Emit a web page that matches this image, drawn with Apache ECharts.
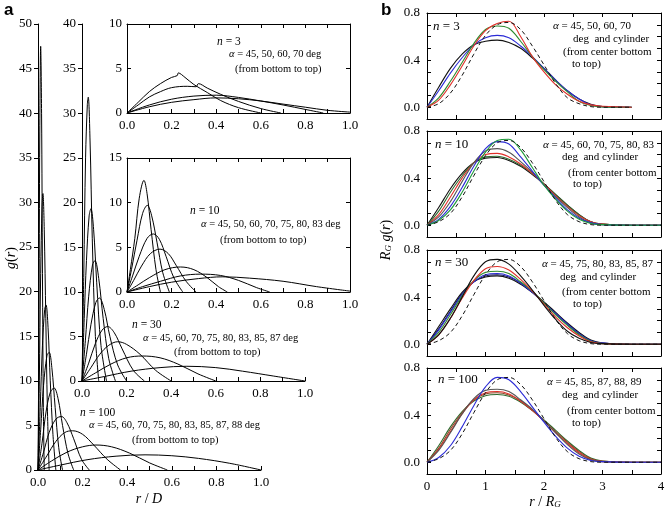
<!DOCTYPE html>
<html>
<head>
<meta charset="utf-8">
<script src="https://cdn.jsdelivr.net/npm/echarts@6/dist/echarts.min.js"></script>
<style>html,body{margin:0;background:#fff}#chart{width:666px;height:511px}</style>
</head>
<body>
<div id="chart"></div>
<script>
// ---- panel a: g(r) against r/D, each curve as [r/D, g] pairs, listed bottom (alpha=45) to top ----
const aN100 = [
  [[0,0],[0.1,0.55],[0.22,1.15],[0.35,1.55],[0.48,1.7],[0.6,1.6],[0.72,1.3],[0.86,0.75],[1.0,0]],
  [[0,0],[0.06,1],[0.13,2],[0.2,2.6],[0.26,2.8],[0.33,2.6],[0.41,1.9],[0.5,0.8],[0.58,0]],
  [[0,0],[0.04,1.6],[0.08,3.2],[0.12,4.2],[0.155,4.4],[0.2,4],[0.25,2.8],[0.31,1.2],[0.37,0]],
  [[0,0],[0.025,2],[0.05,4.2],[0.08,5.7],[0.105,6],[0.13,5.3],[0.16,3.5],[0.195,1.2],[0.23,0]],
  [[0,0],[0.018,3],[0.036,6.5],[0.055,8.7],[0.072,9.2],[0.09,8],[0.11,5],[0.135,1.8],[0.16,0]],
  [[0,0],[0.012,4.5],[0.025,9.5],[0.04,12.8],[0.05,13.2],[0.062,11.5],[0.077,7],[0.093,2.5],[0.11,0]],
  [[0,0],[0.01,7],[0.02,14],[0.03,18],[0.036,18.5],[0.045,16],[0.055,10],[0.067,4],[0.08,0]],
  [[0,0],[0.006,10],[0.012,22],[0.018,29.5],[0.022,31],[0.028,27],[0.035,17],[0.042,7],[0.05,0]],
  [[0,0],[0.004,15],[0.008,38],[0.012,47.5],[0.016,40],[0.02,22],[0.024,7],[0.028,0]]
];
const aN30 = [
  [[0,0],[0.1,0.5],[0.22,1.1],[0.35,1.5],[0.47,1.65],[0.6,1.5],[0.72,1.1],[0.86,0.55],[1.0,0]],
  [[0,0],[0.06,0.9],[0.13,1.9],[0.2,2.6],[0.27,2.8],[0.35,2.6],[0.43,1.9],[0.52,0.8],[0.6,0]],
  [[0,0],[0.04,1.5],[0.08,3],[0.12,4],[0.16,4.4],[0.2,4.1],[0.26,3],[0.33,1.2],[0.4,0]],
  [[0,0],[0.03,2],[0.06,4.2],[0.09,5.7],[0.115,6.1],[0.145,5.4],[0.18,3.6],[0.23,1.2],[0.28,0]],
  [[0,0],[0.02,3],[0.04,6.3],[0.062,8.8],[0.078,9.3],[0.1,8],[0.125,5],[0.16,1.8],[0.2,0]],
  [[0,0],[0.015,4.5],[0.03,9.5],[0.047,13],[0.058,13.5],[0.075,11.5],[0.095,7],[0.12,2.5],[0.15,0]],
  [[0,0],[0.01,7],[0.02,13.5],[0.032,18.5],[0.04,19.3],[0.052,17],[0.066,11],[0.085,4],[0.11,0]],
  [[0,0],[0.008,12],[0.016,25],[0.024,31],[0.028,31.8],[0.036,27],[0.046,16],[0.06,5],[0.075,0]]
];
const aN10 = [
  [[0,0],[0.1,0.6],[0.2,1.1],[0.32,1.5],[0.43,1.7],[0.55,1.55],[0.7,1.2],[0.85,0.6],[1.0,0.1]],
  [[0,0],[0.07,0.6],[0.15,1.2],[0.24,1.8],[0.33,2.0],[0.42,1.85],[0.5,1.3],[0.58,0.5],[0.64,0]],
  [[0,0],[0.05,0.8],[0.1,1.6],[0.17,2.5],[0.24,2.8],[0.3,2.5],[0.36,1.6],[0.41,0.6],[0.45,0]],
  [[0,0],[0.03,1.3],[0.065,2.9],[0.105,4.3],[0.148,4.8],[0.185,4.3],[0.22,3],[0.265,1.2],[0.31,0]],
  [[0,0],[0.025,1.8],[0.055,4],[0.09,6],[0.118,6.5],[0.145,5.9],[0.175,4],[0.21,1.6],[0.25,0]],
  [[0,0],[0.02,2.5],[0.045,5.8],[0.07,8.8],[0.091,9.7],[0.11,8.6],[0.135,5.5],[0.16,2.2],[0.19,0]],
  [[0,0],[0.015,2.5],[0.035,6],[0.055,10.5],[0.076,12.5],[0.09,11],[0.108,7],[0.13,2.5],[0.15,0]]
];
const aN3 = [
  [[0,0],[0.1,0.7],[0.2,1.2],[0.3,1.5],[0.4,1.7],[0.5,1.6],[0.6,1.35],[0.7,1.0],[0.8,0.65],[0.9,0.3],[1.0,0.1]],
  [[0,0],[0.1,0.9],[0.2,1.55],[0.3,1.9],[0.4,2.0],[0.5,1.75],[0.6,1.35],[0.7,0.9],[0.8,0.4],[0.88,0]],
  [[0,0],[0.05,0.9],[0.1,1.8],[0.15,2.4],[0.2,2.85],[0.27,3.0],[0.31,2.95],[0.32,3.3],[0.36,2.8],[0.42,2.1],[0.5,1.3],[0.6,0.5],[0.69,0]],
  [[0,0],[0.05,1.2],[0.1,2.4],[0.15,3.3],[0.2,4.0],[0.225,4.2],[0.23,4.5],[0.26,4.0],[0.3,3.2],[0.36,2.3],[0.42,1.4],[0.5,0.6],[0.6,0]]
];

// ---- panel b: R_G g(r) against r/R_G ----
const rB = [0,0.2,0.4,0.6,0.8,1.0,1.2,1.4,1.6,1.8,2.0,2.2,2.4,2.6,2.8,3.0,3.5,4.0];
const bN3 = [
  [0,0.17,0.33,0.45,0.53,0.56,0.57,0.55,0.5,0.42,0.33,0.23,0.14,0.07,0.025,0.005,0],
  [0,0.14,0.29,0.42,0.53,0.59,0.61,0.59,0.52,0.43,0.33,0.23,0.14,0.07,0.02,0.005,0],
  [0,0.08,0.22,0.38,0.54,0.66,0.69,0.67,0.56,0.43,0.32,0.22,0.13,0.05,0.015,0.003,0],
  [0,0.06,0.19,0.35,0.52,0.65,0.71,0.73,0.6,0.43,0.3,0.19,0.11,0.05,0.02,0.008,0]
];
const bN3Cyl = [0,0.03,0.12,0.27,0.45,0.61,0.7,0.72,0.66,0.52,0.36,0.2,0.08,0.03,0.005,0,0];
const bN10 = [
  [0,0.15,0.31,0.44,0.53,0.57,0.575,0.55,0.5,0.43,0.35,0.26,0.17,0.09,0.03,0.01,0,0],
  [0,0.12,0.28,0.42,0.53,0.58,0.585,0.56,0.51,0.44,0.35,0.26,0.17,0.09,0.03,0.01,0,0],
  [0,0.09,0.24,0.4,0.53,0.6,0.61,0.58,0.52,0.44,0.35,0.25,0.16,0.08,0.03,0.01,0,0],
  [0,0.07,0.2,0.37,0.53,0.63,0.65,0.62,0.54,0.45,0.34,0.24,0.15,0.07,0.02,0.005,0,0],
  [0,0.05,0.16,0.32,0.5,0.65,0.71,0.69,0.58,0.46,0.34,0.23,0.13,0.06,0.02,0.005,0,0],
  [0,0.04,0.13,0.28,0.46,0.62,0.72,0.73,0.64,0.49,0.34,0.22,0.12,0.05,0.015,0.005,0,0]
];
const bN10Cyl = [0,0.03,0.1,0.24,0.42,0.59,0.7,0.72,0.66,0.53,0.37,0.21,0.09,0.03,0.005,0,0,0];
const bN30 = [
  [0,0.15,0.3,0.44,0.53,0.57,0.58,0.56,0.51,0.44,0.36,0.27,0.18,0.1,0.035,0.01,0,0],
  [0,0.13,0.28,0.43,0.53,0.58,0.59,0.57,0.52,0.44,0.35,0.26,0.17,0.09,0.03,0.01,0,0],
  [0,0.12,0.27,0.42,0.53,0.59,0.6,0.58,0.52,0.44,0.35,0.26,0.17,0.09,0.03,0.01,0,0],
  [0,0.1,0.25,0.41,0.54,0.61,0.62,0.6,0.53,0.45,0.35,0.25,0.16,0.08,0.025,0.005,0,0],
  [0,0.08,0.22,0.39,0.54,0.64,0.66,0.63,0.55,0.45,0.34,0.23,0.14,0.07,0.02,0.005,0,0],
  [0,0.08,0.22,0.4,0.58,0.7,0.72,0.68,0.58,0.46,0.33,0.21,0.11,0.05,0.015,0.005,0,0]
];
const bN30Cyl = [0,0.03,0.1,0.24,0.42,0.59,0.7,0.72,0.66,0.53,0.37,0.21,0.09,0.03,0.005,0,0,0];
const bN100 = [
  [0,0.14,0.3,0.43,0.52,0.565,0.575,0.56,0.51,0.44,0.36,0.27,0.18,0.1,0.035,0.01,0,0],
  [0,0.12,0.28,0.42,0.53,0.58,0.59,0.57,0.52,0.44,0.35,0.26,0.17,0.09,0.03,0.01,0,0],
  [0,0.11,0.26,0.41,0.53,0.59,0.6,0.58,0.52,0.44,0.35,0.25,0.16,0.08,0.025,0.005,0,0],
  [0,0.1,0.25,0.41,0.54,0.61,0.62,0.6,0.53,0.45,0.35,0.25,0.15,0.07,0.02,0.005,0,0],
  [0,0.04,0.14,0.3,0.48,0.64,0.72,0.7,0.6,0.47,0.34,0.22,0.12,0.05,0.015,0.005,0,0]
];
const bN100Cyl = [0,0.03,0.1,0.24,0.42,0.59,0.7,0.72,0.66,0.53,0.37,0.21,0.09,0.03,0.005,0,0,0];

const serif = 'Liberation Serif';
const grid = [], xAxis = [], yAxis = [], series = [];

function axis(extra) {
  return Object.assign({
    type: 'value',
    splitLine: { show: false },
    axisLine: { show: true, onZero: false, lineStyle: { color: '#000', width: 1 } },
    axisTick: { show: true, inside: true, length: 4, lineStyle: { color: '#000' } },
    axisLabel: { color: '#000', fontFamily: serif, fontSize: 13 }
  }, extra);
}

// one plot area, its axes, and (if boxed) mirrored axes on top and right
function addPlot(box, xo, yo, boxed) {
  const gi = grid.length;
  grid.push(Object.assign({ outerBoundsMode: 'none', containLabel: false }, box));
  const xi = xAxis.length, yi = yAxis.length;
  xAxis.push(axis(Object.assign({ gridIndex: gi, position: 'bottom' }, xo)));
  yAxis.push(axis(Object.assign({ gridIndex: gi, position: 'left' }, yo)));
  if (boxed) {
    xAxis.push(axis(Object.assign({}, xo, { gridIndex: gi, position: 'top', axisLabel: { show: false } })));
    yAxis.push(axis(Object.assign({}, yo, { gridIndex: gi, position: 'right', axisLabel: { show: false } })));
  }
  return { xi, yi };
}

const tenths = v => { const k = Math.round(v * 10); return k % 2 === 0 ? (k / 10).toFixed(1) : ''; };
const xA = { min: 0, max: 1, interval: 0.1, axisLabel: { color: '#000', fontFamily: serif, fontSize: 13, margin: 6, formatter: tenths } };

function pairsLines(ax, curves, color) {
  curves.forEach(c => series.push({
    type: 'line', xAxisIndex: ax.xi, yAxisIndex: ax.yi, data: c, smooth: 0.35,
    showSymbol: false, symbol: 'none', silent: true,
    lineStyle: { color: color || '#000', width: 1 }
  }));
}

// panel a
const pMain = addPlot({ left: 38, top: 24, width: 223, height: 446 }, xA,
  { min: 0, max: 50, interval: 5, axisTick: { show: true, inside: false, length: 4, lineStyle: { color: '#000' } },
    axisLabel: { color: '#000', fontFamily: serif, fontSize: 13, margin: 6 } }, false);
const p30 = addPlot({ left: 82, top: 24, width: 223, height: 357 }, xA,
  { min: 0, max: 40, interval: 5, axisTick: { show: true, inside: false, length: 4, lineStyle: { color: '#000' } },
    axisLabel: { color: '#000', fontFamily: serif, fontSize: 13, margin: 6 } }, false);
const p3 = addPlot({ left: 127, top: 24, width: 223, height: 89 }, xA,
  { min: 0, max: 10, interval: 5, axisLabel: { color: '#000', fontFamily: serif, fontSize: 13, margin: 5 } }, true);
const p10 = addPlot({ left: 127, top: 158, width: 223, height: 134 }, xA,
  { min: 0, max: 15, interval: 5, axisLabel: { color: '#000', fontFamily: serif, fontSize: 13, margin: 5 } }, true);
pairsLines(pMain, aN100);
pairsLines(p30, aN30);
pairsLines(p3, aN3);
pairsLines(p10, aN10);

// panel b
const bTops = [13, 131, 250, 368];
const bSets = [
  { solid: bN3, cyl: bN3Cyl, colors: ['#111', '#2b2bd6', '#2e8b2e', '#e0302a'] },
  { solid: bN10, cyl: bN10Cyl, colors: ['#111', '#2e6b2e', '#e0302a', '#555', '#2b2bd6', '#1e9a3a'] },
  { solid: bN30, cyl: bN30Cyl, colors: ['#111', '#14145a', '#2b2bd6', '#2e8b2e', '#e0302a', '#111'] },
  { solid: bN100, cyl: bN100Cyl, colors: ['#2e6b2e', '#8b4a2a', '#e0302a', '#555', '#2b2bd6'] }
];
bSets.forEach((s, k) => {
  const last = k === bSets.length - 1;
  const ax = addPlot({ left: 427, top: bTops[k], width: 234, height: 106 },
    { min: 0, max: 4, interval: 0.5,
      axisLabel: { show: last, color: '#000', fontFamily: serif, fontSize: 13, margin: 6,
        formatter: v => Math.abs(v - Math.round(v)) < 1e-6 ? String(Math.round(v)) : '' } },
    { min: -0.1, max: 0.8, interval: 0.1,
      axisLabel: { color: '#000', fontFamily: serif, fontSize: 13, margin: 7,
        formatter: v => { const q = Math.round(v * 10); return (q >= 0 && q % 4 === 0) ? (q / 10).toFixed(1) : ''; } } },
    true);
  s.solid.forEach((vals, i) => series.push({
    type: 'line', xAxisIndex: ax.xi, yAxisIndex: ax.yi, smooth: 0.35, showSymbol: false, symbol: 'none', silent: true,
    data: vals.map((v, j) => [rB[j], v]),
    lineStyle: { color: s.colors[i], width: 1.1 }
  }));
  series.push({
    type: 'line', xAxisIndex: ax.xi, yAxisIndex: ax.yi, smooth: 0.35, showSymbol: false, symbol: 'none', silent: true,
    data: s.cyl.map((v, j) => [rB[j], v]),
    lineStyle: { color: '#111', width: 1, type: [4, 3] }
  });
});

// annotations
const rich = {
  i: { fontStyle: 'italic', fontFamily: serif },
  s: { fontStyle: 'italic', fontFamily: serif, fontSize: 9, verticalAlign: 'bottom', lineHeight: 10 }
};
function txt(x, y, text, size, align, rot) {
  return {
    type: 'text', x: x, y: y, rotation: rot || 0, silent: true,
    style: {
      text: text, fill: '#000', fontFamily: serif, fontSize: size,
      align: align || 'left', verticalAlign: 'middle', textAlign: align || 'left', textVerticalAlign: 'middle',
      rich: Object.assign({}, rich, {
        i: Object.assign({ fontSize: size }, rich.i)
      })
    }
  };
}
const graphic = [
  { type: 'text', x: 4, y: 10, style: { text: 'a', font: 'bold 17px Liberation Sans', fill: '#000', verticalAlign: 'middle', textVerticalAlign: 'middle' } },
  { type: 'text', x: 381, y: 10, style: { text: 'b', font: 'bold 17px Liberation Sans', fill: '#000', verticalAlign: 'middle', textVerticalAlign: 'middle' } },
  txt(217, 42, '{i|n} = 3', 11.5),
  txt(229, 54, '{i|α} = 45, 50, 60, 70 deg', 10.5),
  txt(235, 69, '(from bottom to top)', 10.5),
  txt(190, 211, '{i|n} = 10', 11.5),
  txt(201, 224, '{i|α} = 45, 50, 60, 70, 75, 80, 83 deg', 10.5),
  txt(220, 240, '(from bottom to top)', 10.5),
  txt(132, 325, '{i|n} = 30', 11.5),
  txt(143, 338, '{i|α} = 45, 60, 70, 75, 80, 83, 85, 87 deg', 10.5),
  txt(174, 352, '(from bottom to top)', 10.5),
  txt(80, 413, '{i|n} = 100', 11.5),
  txt(89, 425, '{i|α} = 45, 60, 70, 75, 80, 83, 85, 87, 88 deg', 10.5),
  txt(132, 440, '(from bottom to top)', 10.5),
  txt(149, 499, '{i|r} / {i|D}', 14, 'center'),
  txt(11, 258, '{i|g}({i|r})', 14, 'center', Math.PI / 2),

  txt(433, 27, '{i|n} = 3', 13),
  txt(553, 26, '{i|α} = 45, 50, 60, 70', 11),
  txt(573, 39, 'deg  and cylinder', 11),
  txt(563, 52, '(from center bottom', 11),
  txt(572, 64, 'to top)', 11),
  txt(435, 145, '{i|n} = 10', 13),
  txt(543, 145, '{i|α} = 45, 60, 70, 75, 80, 83', 11),
  txt(562, 157, 'deg  and cylinder', 11),
  txt(568, 173, '(from center bottom', 11),
  txt(573, 184, 'to top)', 11),
  txt(435, 263, '{i|n} = 30', 13),
  txt(542, 264, '{i|α} = 45, 75, 80, 83, 85, 87', 11),
  txt(560, 277, 'deg  and cylinder', 11),
  txt(562, 292, '(from center bottom', 11),
  txt(573, 304, 'to top)', 11),
  txt(438, 380, '{i|n} = 100', 13),
  txt(547, 382, '{i|α} = 45, 85, 87, 88, 89', 11),
  txt(562, 395, 'deg  and cylinder', 11),
  txt(567, 411, '(from center bottom', 11),
  txt(572, 423, 'to top)', 11),
  txt(545, 502, '{i|r} / {i|R}{s|G}', 14, 'center'),
  txt(386, 240, '{i|R}{s|G} {i|g}({i|r})', 14, 'center', Math.PI / 2)
];

const chart = echarts.init(document.getElementById('chart'));
chart.setOption({
  animation: false,
  backgroundColor: '#fff',
  grid: grid,
  xAxis: xAxis,
  yAxis: yAxis,
  series: series,
  graphic: graphic
});
window.addEventListener('resize', () => chart.resize());
</script>
</body>
</html>
